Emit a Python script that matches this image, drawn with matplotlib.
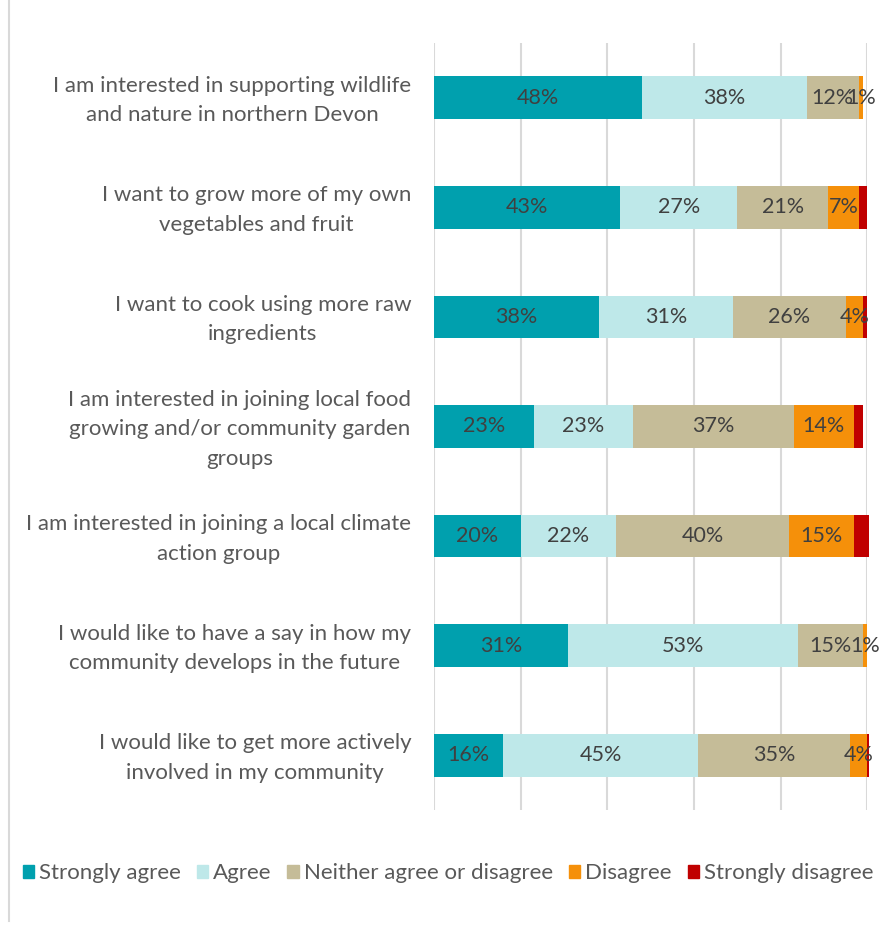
import numpy as np
import matplotlib.pyplot as plt
from matplotlib.lines import Line2D
from matplotlib.transforms import ScaledTranslation

plt.rcParams['font.family'] = ['Lato', 'DejaVu Sans']

statements = [
    "I am interested in supporting wildlife\nand nature in northern Devon",
    "I want to grow more of my own\nvegetables and fruit",
    "I want to cook using more raw\ningredients",
    "I am interested in joining local food\ngrowing and/or community garden\ngroups",
    "I am interested in joining a local climate\naction group",
    "I would like to have a say in how my\ncommunity develops in the future",
    "I would like to get more actively\ninvolved in my community",
]

responses = ["Strongly agree", "Agree", "Neither agree or disagree",
             "Disagree", "Strongly disagree"]

strongly_agree = [48, 43, 38, 23, 20, 31, 16]
agree = [38, 27, 31, 23, 22, 53, 45]
neither = [12, 21, 26, 37, 40, 15, 35]
disagree = [1, 7, 4, 14, 15, 1, 4]
strongly_disagree = [0, 2, 1, 2, 3.5, 0, 0.5]

colors = ["#00A0AE", "#BEE8E9", "#C5BC98", "#F5900A", "#C00000"]

series = [strongly_agree, agree, neither, disagree, strongly_disagree]

fig = plt.figure(figsize=(8.84, 9.26), dpi=100)
ax = fig.add_axes([0.491, 0.1253, 0.490, 0.8283])

y = np.arange(len(statements))
left = np.zeros(len(statements))
for i, (name, vals, col) in enumerate(zip(responses, series, colors)):
    vals = np.array(vals, dtype=float)
    bars = ax.barh(y, vals, left=left, height=0.39, color=col,
                   label=name, zorder=3, clip_on=False)
    # the last series carries no value labels
    if i < 4:
        for b, v in zip(bars, vals):
            if v <= 0:
                continue
            ax.text(b.get_x() + b.get_width() / 2, b.get_y() + b.get_height() / 2,
                    f"{v:.0f}%", ha='center', va='center', fontsize=15.5,
                    color='#404040', zorder=4)
    left += vals

ax.set_xlim(0, 100)
ax.set_ylim(len(statements) - 0.5, -0.5)
ax.set_xticks(np.arange(0, 101, 20))
ax.xaxis.grid(True, color='#D9D9D9', linewidth=1.5, zorder=0)
ax.tick_params(axis='x', length=0, labelbottom=False)
ax.tick_params(axis='y', length=0, pad=16.5)
ax.set_yticks(y)
ax.set_yticklabels(statements, fontsize=16, color='#595959',
                   multialignment='center', linespacing=1.6)
# nudge the wrapped statements up a little so they sit level with the bars
nudge = ScaledTranslation(0, 4 / 100, fig.dpi_scale_trans)
for tick in ax.yaxis.get_major_ticks():
    tick.label1.set_transform(tick.label1.get_transform() + nudge)
for s in ax.spines.values():
    s.set_visible(False)

handles = [plt.Rectangle((0, 0), 1, 1, color=c) for c in colors]
fig.legend(handles, responses, loc='center', bbox_to_anchor=(0.507, 0.057),
           ncol=5, frameon=False, fontsize=16, labelcolor='#595959',
           handlelength=0.5, handleheight=0.5, handletextpad=0.25,
           columnspacing=0.7)

# outer border on the left edge
fig.add_artist(Line2D([9 / 884, 9 / 884], [0.005, 1.0], color='#D9D9D9',
                      linewidth=1.5, transform=fig.transFigure))

fig.savefig("out.png", dpi=100)
